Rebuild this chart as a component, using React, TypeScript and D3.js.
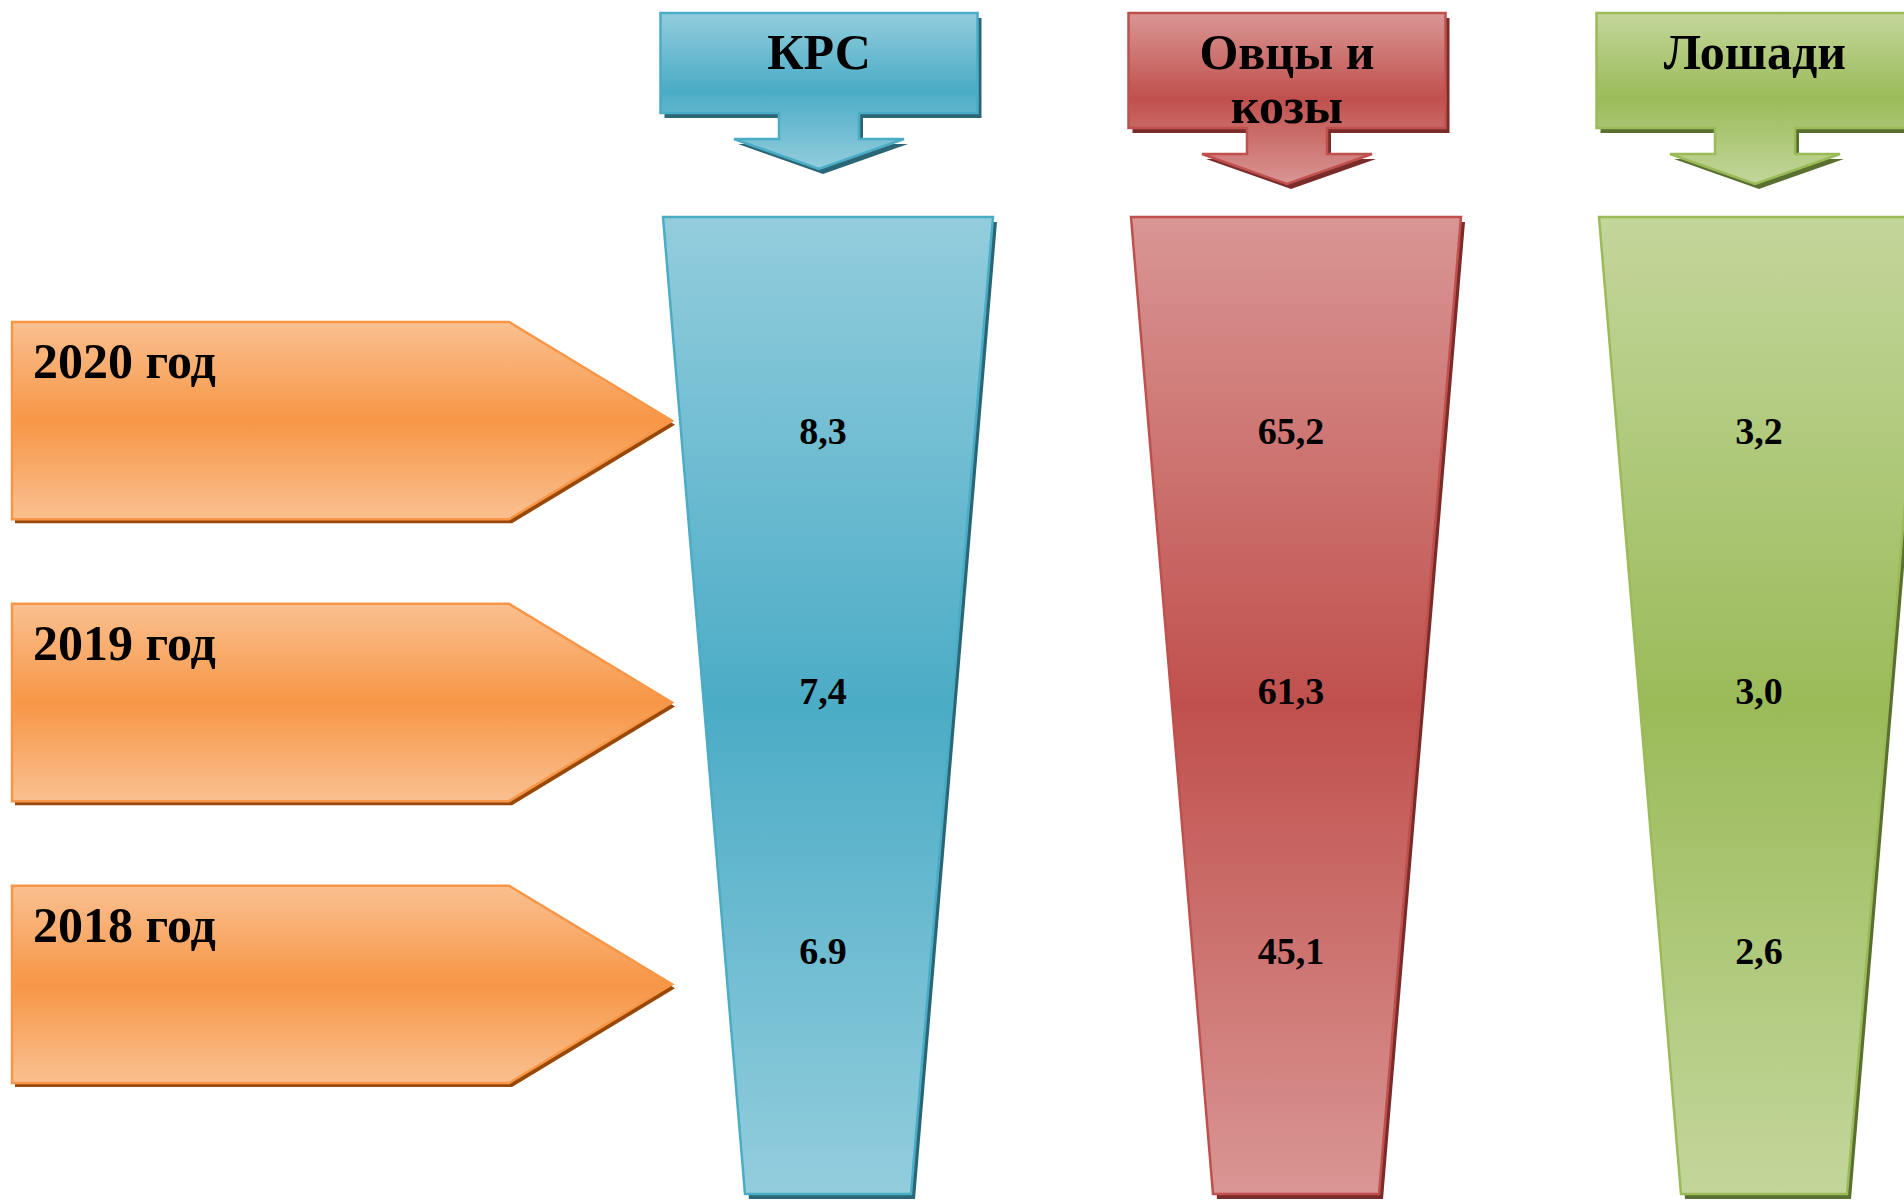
import * as d3 from 'd3';

// Поголовье скота по годам (тыс. голов)
const categories = ['КРС', 'Овцы и козы', 'Лошади'];
const headerLines = [['КРС'], ['Овцы и', 'козы'], ['Лошади']];
const years = ['2020 год', '2019 год', '2018 год'];
const krsLabels = ['8,3', '7,4', '6.9'];
const sheepLabels = ['65,2', '61,3', '45,1'];
const horseLabels = ['3,2', '3,0', '2,6'];
const seriesLabels = [krsLabels, sheepLabels, horseLabels];

const W = 1904;
const H = 1202;

// light / dark / shadow per shape
const themes = [
  { id: 'aqua', light: '#93CDDD', dark: '#4BACC6', stroke: '#4BACC6', shadow: '#2B6676' },
  { id: 'red', light: '#D99694', dark: '#C0504D', stroke: '#C0504D', shadow: '#7A2C2A' },
  { id: 'green', light: '#C3D69B', dark: '#9BBB59', stroke: '#9BBB59', shadow: '#5A7030' },
];
const orange = { id: 'orange', light: '#FAC090', dark: '#F79646', stroke: '#F79646', shadow: '#984807' };

const headerHeights = [100, 115, 115];
const headerTop = 13;
const headerW = 317;
const stemW = 80;
const stemLen = 26;
const headW = 170;
const headLen = 30;

const funnelTop = 217;
const funnelBottom = 1194;
const funnelTopW = 330;
const funnelBottomW = 166;

const arrowLeft = 12;
const arrowTip = 672;
const arrowHead = 163;

const font = '"Liberation Serif", "Times New Roman", serif';

const line = d3.line<[number, number]>().curve(d3.curveLinearClosed);

function Gradient({ t }: { t: typeof orange }) {
  return (
    <linearGradient id={`g-${t.id}`} x1="0" y1="0" x2="0" y2="1">
      <stop offset="0" stopColor={t.light} />
      <stop offset="0.5" stopColor={t.dark} />
      <stop offset="1" stopColor={t.light} />
    </linearGradient>
  );
}

function Shape({ pts, t, dx = 4, dy = 5 }: { pts: [number, number][]; t: typeof orange; dx?: number; dy?: number }) {
  const d = line(pts) ?? '';
  return (
    <g>
      <path d={d} transform={`translate(${dx},${dy})`} fill={t.shadow} />
      <path d={d} fill={`url(#g-${t.id})`} stroke={t.stroke} strokeWidth={2.5} strokeLinejoin="miter" />
    </g>
  );
}

export default function App() {
  const x = d3.scalePoint<string>().domain(categories).range([828, 1764]);
  const rows = d3.scaleBand<string>().domain(years).range([322, 1083]).paddingInner(0.3);
  const labelY = d3.scalePoint<string>().domain(years).range([444, 964]);

  return (
    <div style={{ position: 'absolute', left: 0, top: 0 }}>
      <svg width={W} height={H} style={{ display: 'block', background: '#fff' }}>
        <defs>
          {themes.map((t) => <Gradient key={t.id} t={t} />)}
          <Gradient t={orange} />
        </defs>

        {/* year arrows */}
        {years.map((yr) => {
          const top = rows(yr)!;
          const bot = top + rows.bandwidth();
          const mid = (top + bot) / 2;
          const pts: [number, number][] = [
            [arrowLeft, top],
            [arrowTip - arrowHead, top],
            [arrowTip, mid],
            [arrowTip - arrowHead, bot],
            [arrowLeft, bot],
          ];
          return (
            <g key={yr}>
              <Shape pts={pts} t={orange} dx={3} dy={4} />
              <text x={33} y={top + 56} fontFamily={font} fontWeight="bold" fontSize={50} fill="#000">
                {yr}
              </text>
            </g>
          );
        })}

        {categories.map((cat, i) => {
          const t = themes[i];
          const cx = x(cat)!;
          const hx = cx - 9;
          const l = hx - headerW / 2;
          const r = hx + headerW / 2;
          const hb = headerTop + headerHeights[i];
          const header: [number, number][] = [
            [l, headerTop],
            [r, headerTop],
            [r, hb],
            [hx + stemW / 2, hb],
            [hx + stemW / 2, hb + stemLen],
            [hx + headW / 2, hb + stemLen],
            [hx, hb + stemLen + headLen],
            [hx - headW / 2, hb + stemLen],
            [hx - stemW / 2, hb + stemLen],
            [hx - stemW / 2, hb],
            [l, hb],
          ];
          const funnel: [number, number][] = [
            [cx - funnelTopW / 2, funnelTop],
            [cx + funnelTopW / 2, funnelTop],
            [cx + funnelBottomW / 2, funnelBottom],
            [cx - funnelBottomW / 2, funnelBottom],
          ];
          const lines = headerLines[i];
          return (
            <g key={cat}>
              <Shape pts={header} t={t} />
              {lines.map((ln, j) => (
                <text
                  key={ln}
                  x={hx}
                  y={69 + j * 54}
                  textAnchor="middle"
                  fontFamily={font}
                  fontWeight="bold"
                  fontSize={50}
                  fill="#000"
                >
                  {ln}
                </text>
              ))}
              <Shape pts={funnel} t={t} dx={4} dy={5} />
              {years.map((yr, k) => (
                <text
                  key={yr}
                  x={cx - 5}
                  y={labelY(yr)!}
                  textAnchor="middle"
                  fontFamily={font}
                  fontWeight="bold"
                  fontSize={38}
                  fill="#000"
                >
                  {seriesLabels[i][k]}
                </text>
              ))}
            </g>
          );
        })}
      </svg>
    </div>
  );
}
